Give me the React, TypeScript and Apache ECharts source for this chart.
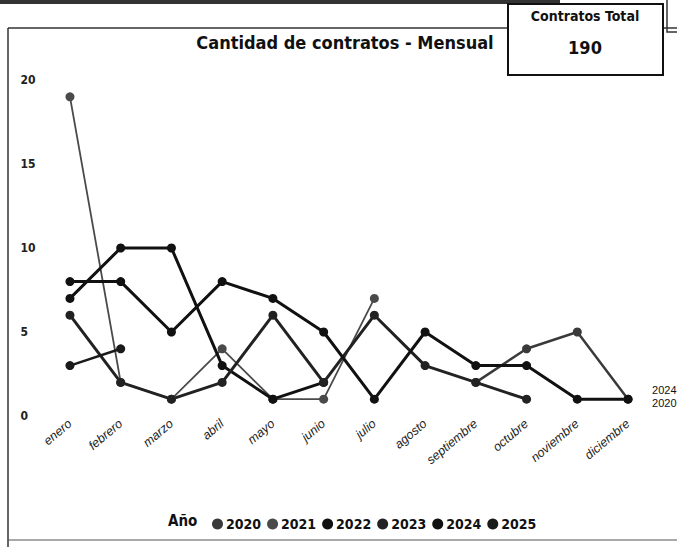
import React, { useEffect, useRef } from "react";
import * as echarts from "echarts";

const months = ["enero", "febrero", "marzo", "abril", "mayo", "junio", "julio", "agosto", "septiembre", "octubre", "noviembre", "diciembre"];
const years = ["2020", "2021", "2022", "2023", "2024", "2025"];
const y2020 = [null, null, null, null, null, null, null, null, 2, 4, 5, 1];
const y2021 = [19, 2, 1, 4, 1, 1, 7, null, null, null, null, null];
const y2022 = [7, 10, 10, 3, 1, 2, null, null, null, null, null, null];
const y2023 = [6, 2, 1, 2, 6, 2, 6, 3, 2, 1, null, null];
const y2024 = [8, 8, 5, 8, 7, 5, 1, 5, 3, 3, 1, 1];
const y2025 = [3, 4, null, null, null, null, null, null, null, null, null, null];
const yTicks = [0, 5, 10, 15, 20];
const totalContracts = "190";
const chartTitle = "Cantidad de contratos - Mensual";

const FONT = "'DejaVu Sans Condensed', 'Liberation Sans Narrow', 'DejaVu Sans', sans-serif";

export default function App() {
  const ref = useRef<HTMLDivElement>(null);
  useEffect(() => {
    if (!ref.current) return;
    const chart = echarts.init(ref.current, null, { renderer: "svg" });
    const data = [y2020, y2021, y2022, y2023, y2024, y2025];
    const colors = ["#3a3a3a", "#4a4a4a", "#111111", "#222222", "#111111", "#1a1a1a"];
    const widths = [2.5, 1.8, 3, 3, 3, 2.5];
    const series = data.map((d, i) => ({
      name: years[i],
      type: "line",
      data: d,
      symbol: "circle",
      symbolSize: 9,
      connectNulls: false,
      lineStyle: { color: colors[i], width: widths[i] },
      itemStyle: { color: colors[i] },
      endLabel:
        i === 0 || i === 4
          ? {
              show: true,
              formatter: "{a}",
              color: "#111",
              fontSize: 11,
              fontFamily: "Liberation Sans, sans-serif",
              distance: 24,
              offset: i === 4 ? [0, -9] : [0, 4],
            }
          : undefined,
    }));
    chart.setOption({
      animation: false,
      backgroundColor: "#ffffff",
      grid: { left: 44.6, right: 23.6, top: 80, bottom: 131 },
      xAxis: {
        type: "category",
        data: months,
        boundaryGap: true,
        axisLine: { show: false },
        axisTick: { show: false },
        axisLabel: {
          rotate: 40,
          color: "#222",
          fontSize: 12.5,
          fontStyle: "italic",
          fontFamily: "Liberation Sans, sans-serif",
          margin: 6,
          interval: 0,
        },
      },
      yAxis: {
        type: "value",
        min: yTicks[0],
        max: yTicks[yTicks.length - 1],
        interval: 5,
        splitLine: { show: false },
        axisLine: { show: false },
        axisTick: { show: false },
        axisLabel: {
          color: "#222",
          fontSize: 12,
          fontWeight: "bold",
          fontFamily: FONT,
          margin: 24,
          align: "left",
          formatter: (v: number) => String(v),
        },
      },
      legend: {
        data: years,
        left: 207,
        top: 512,
        icon: "circle",
        itemWidth: 11,
        itemHeight: 11,
        itemGap: 6,
        textStyle: { color: "#111", fontSize: 14, fontWeight: "bold", fontFamily: FONT, padding: [0, 0, 0, -2] },
        inactiveColor: "#ccc",
      },
      color: colors,
      graphic: [
        { type: "line", shape: { x1: 0, y1: 2, x2: 560, y2: 2 }, style: { stroke: "#333", lineWidth: 4 }, z: 10 },
        { type: "line", shape: { x1: 8, y1: 28, x2: 700, y2: 28 }, style: { stroke: "#333", lineWidth: 1.5 }, z: 10 },
        { type: "line", shape: { x1: 8, y1: 28, x2: 8, y2: 547 }, style: { stroke: "#333", lineWidth: 1.5 }, z: 10 },
        { type: "line", shape: { x1: 8, y1: 540, x2: 677, y2: 540 }, style: { stroke: "#555", lineWidth: 1.2 }, z: 10 },
        { type: "polyline", shape: { points: [[667, 0], [667, 32], [677, 32]] }, style: { stroke: "#333", fill: "none", lineWidth: 1.5 }, z: 10 },
        { type: "rect", shape: { x: 508, y: 4, width: 155, height: 71 }, style: { fill: "#fff", stroke: "#111", lineWidth: 2 }, z: 20 },
        {
          type: "text",
          x: 585,
          y: 16,
          style: { text: "Contratos Total", fill: "#111", font: `bold 14px ${FONT}`, align: "center", verticalAlign: "middle" },
          z: 21,
        },
        {
          type: "text",
          x: 585,
          y: 47,
          style: { text: totalContracts, fill: "#111", font: `bold 18px ${FONT}`, align: "center", verticalAlign: "middle" },
          z: 21,
        },
        {
          type: "text",
          x: 345,
          y: 42,
          style: { text: chartTitle, fill: "#111", font: `bold 18px ${FONT}`, align: "center", verticalAlign: "middle" },
          z: 21,
        },
        {
          type: "text",
          x: 168,
          y: 521,
          style: { text: "Año", fill: "#111", font: `bold 15px ${FONT}`, align: "left", verticalAlign: "middle" },
          z: 21,
        },
      ],
      series,
    });
    return () => chart.dispose();
  }, []);
  return (
    <div style={{ position: "fixed", left: 0, top: 0, width: 677, height: 547, overflow: "hidden", background: "#fff" }}>
      <div ref={ref} style={{ width: 677, height: 547 }} />
    </div>
  );
}
